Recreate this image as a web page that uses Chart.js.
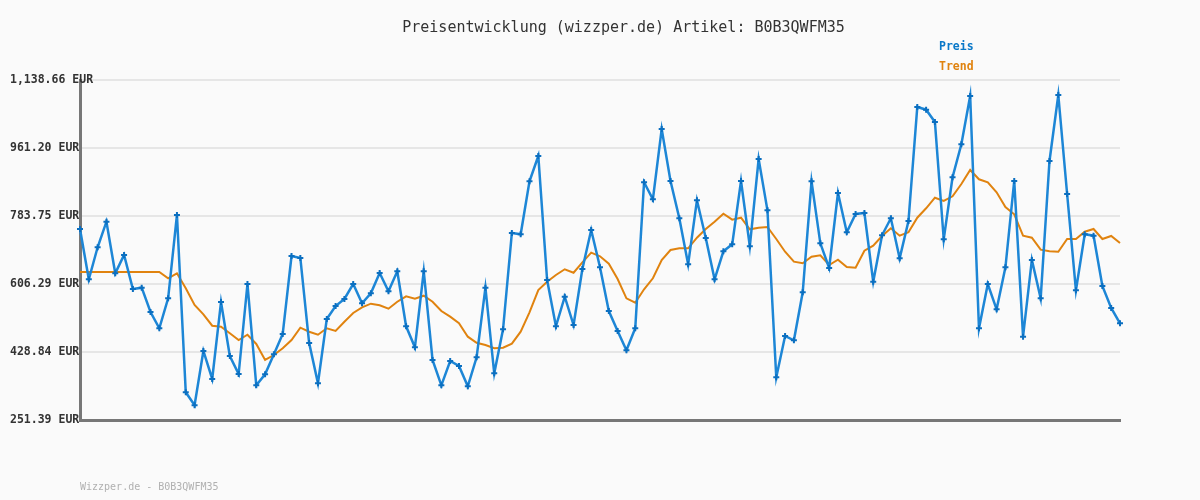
<!DOCTYPE html>
<html>
<head>
<meta charset="utf-8">
<script src="https://cdn.jsdelivr.net/npm/chart.js@4/dist/chart.umd.min.js"></script>
<style>
  html, body { margin: 0; padding: 0; background: #fafafa; }
  #wrap { width: 1200px; height: 500px; }
</style>
</head>
<body>
<div id="wrap"><canvas id="c" width="1200" height="500"></canvas></div>
<script>
const chartTitle = 'Preisentwicklung (wizzper.de) Artikel: B0B3QWFM35';
const footerText = 'Wizzper.de - B0B3QWFM35';
const seriesNames = ['Preis', 'Trend'];

const priceValues = [
  749.8, 618.6, 702.1, 768.9, 634.2, 682.0, 593.3, 596.7, 533.2, 490.7,
  569.0, 786.4, 323.7, 289.8, 431.5, 358.4, 559.3, 418.4, 371.4, 606.3,
  341.9, 370.7, 422.9, 475.8, 679.4, 674.2, 452.3, 347.2, 515.0, 548.9,
  567.2, 606.3, 555.9, 582.0, 635.0, 587.3, 639.4, 495.9, 441.1, 639.6,
  408.0, 341.9, 405.4, 392.3, 339.4, 415.0, 596.7, 373.3, 488.1, 739.4,
  736.0, 874.3, 940.3, 616.7, 495.9, 573.2, 499.3, 645.5, 747.2, 650.1,
  535.8, 483.7, 433.3, 490.7, 871.7, 827.3, 1010.8, 875.1, 777.8, 657.7,
  824.7, 726.3, 618.6, 691.6, 709.9, 875.1, 704.7, 932.5, 798.6, 362.8,
  470.6, 459.4, 584.6, 874.3, 712.5, 648.1, 843.8, 741.2, 789.0, 791.6,
  612.3, 733.4, 777.8, 673.4, 770.7, 1068.2, 1061.2, 1029.1, 723.0, 884.8,
  970.9, 1096.9, 490.7, 606.3, 540.3, 649.9, 875.1, 468.8, 669.0, 569.0,
  927.3, 1099.5, 841.2, 589.9, 736.0, 732.4, 601.1, 543.7, 503.8
];

const trendValues = [
  637.6, 637.6, 637.6, 637.6, 637.6, 637.6, 637.6, 637.6, 637.6, 637.6,
  621.2, 634.2, 595.1, 551.5, 527.2, 497.5, 494.9, 477.7, 460.2, 474.0,
  449.8, 408.0, 421.0, 438.5, 460.2, 492.3, 481.8, 474.0, 490.7, 483.7,
  507.9, 530.6, 545.5, 554.9, 550.7, 541.9, 560.1, 574.2, 567.9, 575.8,
  560.1, 535.8, 521.0, 503.8, 468.8, 453.1, 447.1, 438.5, 440.1, 450.5,
  481.8, 532.4, 590.6, 612.3, 629.8, 644.7, 635.8, 662.9, 688.0, 678.6,
  659.3, 619.4, 569.0, 557.5, 592.5, 621.2, 669.0, 695.0, 699.5, 699.5,
  727.1, 749.8, 768.9, 789.8, 774.1, 779.3, 749.0, 753.2, 755.1, 723.7,
  690.6, 664.5, 660.3, 677.5, 681.2, 655.9, 669.7, 650.7, 648.8, 693.2,
  706.3, 731.6, 751.7, 732.4, 741.2, 779.3, 803.9, 831.5, 822.9, 835.2,
  867.3, 903.8, 879.5, 871.7, 845.6, 807.3, 788.2, 732.4, 727.1, 695.8,
  691.6, 690.6, 723.7, 723.7, 742.8, 749.8, 723.7, 731.6, 713.3
];

const yTickValues = [251.39, 428.84, 606.29, 783.75, 961.20, 1138.66];
const yTickLabels = ['251.39 EUR', '428.84 EUR', '606.29 EUR', '783.75 EUR', '961.20 EUR', '1,138.66 EUR'];

const categories = priceValues.map((_, i) => String(i + 1));

const MONO = '"DejaVu Sans Mono", "Liberation Mono", monospace';
const BLUE = '#1d86d6';
const BLUE_PT = '#0b6fc0';
const BLUE_TXT = '#0a78c8';
const ORANGE = '#e0830f';

const textPlugin = {
  id: 'texts',
  afterDraw(chart) {
    const ctx = chart.ctx;
    const yScale = chart.scales.y;
    ctx.save();
    ctx.textBaseline = 'middle';

    // y-axis labels, left aligned at x = 10, drawn over the axis
    ctx.textAlign = 'left';
    ctx.font = 'bold 11.5px ' + MONO;
    ctx.fillStyle = '#333333';
    yTickValues.forEach((v, i) => {
      ctx.fillText(yTickLabels[i], 10, yScale.getPixelForValue(v));
    });

    ctx.fillStyle = '#333333';
    ctx.font = '15px ' + MONO;
    ctx.textAlign = 'center';
    ctx.fillText(chartTitle, 623.5, 28);

    ctx.textAlign = 'left';
    ctx.font = 'bold 11.5px ' + MONO;
    ctx.fillStyle = BLUE_TXT;
    ctx.fillText(seriesNames[0], 939, 47);
    ctx.fillStyle = ORANGE;
    ctx.fillText(seriesNames[1], 939, 67);

    ctx.font = '10px ' + MONO;
    ctx.fillStyle = '#b0b0b0';
    ctx.fillText(footerText, 80, 487);
    ctx.restore();
  }
};

new Chart(document.getElementById('c'), {
  type: 'line',
  data: {
    labels: categories,
    datasets: [
      {
        label: seriesNames[1],
        data: trendValues,
        borderColor: ORANGE,
        borderWidth: 2,
        pointRadius: 0,
        tension: 0,
        order: 2
      },
      {
        label: seriesNames[0],
        data: priceValues,
        borderColor: BLUE,
        borderWidth: 2.5,
        pointStyle: 'cross',
        pointRadius: 3,
        pointBorderWidth: 2,
        pointBorderColor: BLUE_PT,
        pointBackgroundColor: BLUE_PT,
        pointHoverRadius: 3,
        tension: 0,
        order: 1
      }
    ]
  },
  options: {
    responsive: false,
    animation: false,
    devicePixelRatio: 1,
    layout: { padding: { top: 80, bottom: 80, left: 10, right: 80 } },
    plugins: {
      legend: { display: false },
      title: { display: false },
      tooltip: { enabled: false }
    },
    scales: {
      x: {
        type: 'category',
        offset: false,
        grid: { display: false, drawTicks: false },
        ticks: { display: false },
        border: { display: true, color: '#777777', width: 3 },
        afterFit(scale) { scale.height = 0; }
      },
      y: {
        min: yTickValues[0],
        max: yTickValues[yTickValues.length - 1],
        afterBuildTicks(scale) {
          scale.ticks = yTickValues.map(v => ({ value: v }));
        },
        afterFit(scale) { scale.width = 70; },
        grid: { color: '#e6e6e6', lineWidth: 2, drawTicks: false },
        border: { display: true, color: '#777777', width: 3 },
        ticks: { display: false }
      }
    }
  },
  plugins: [textPlugin]
});
</script>
</body>
</html>
